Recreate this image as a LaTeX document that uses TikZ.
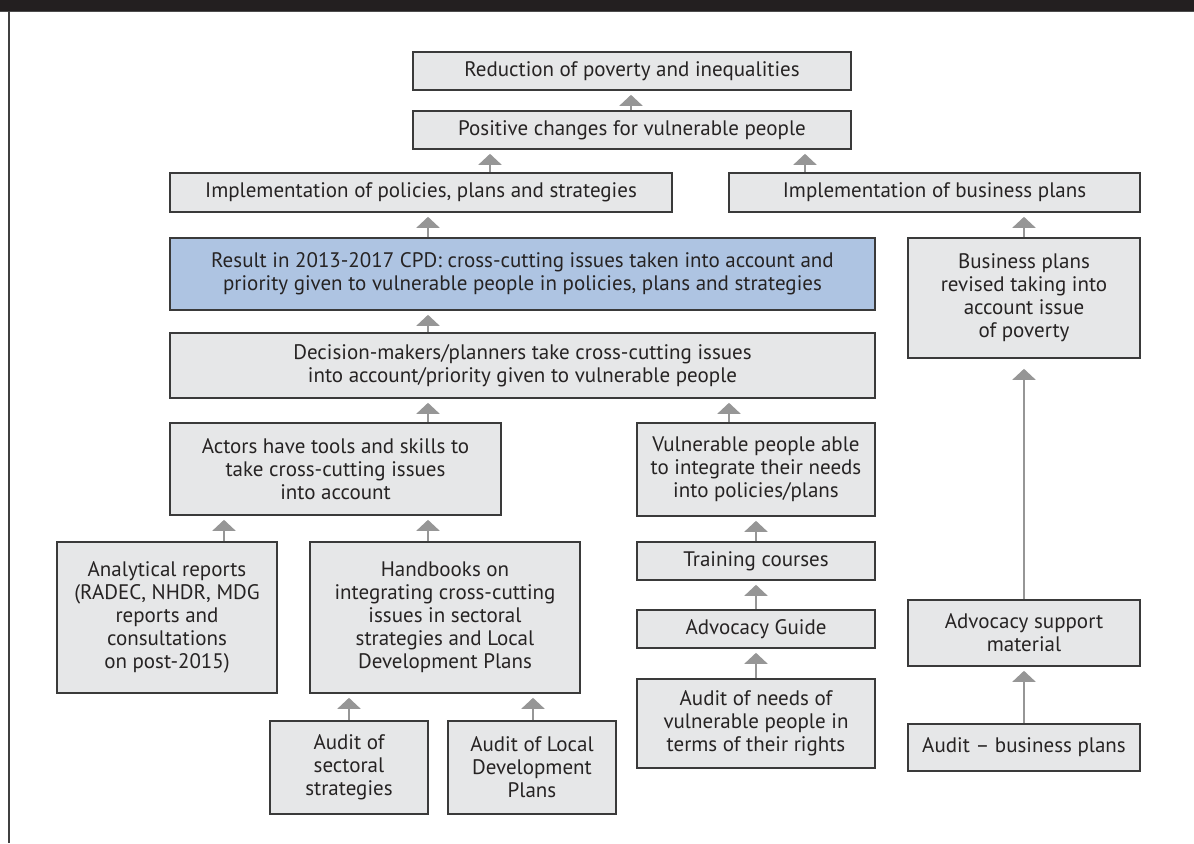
\documentclass[tikz,border=0pt]{standalone}
\usepackage{fontspec}
\setmainfont{PT Sans}
\usetikzlibrary{arrows.meta}
\definecolor{boxfill}{RGB}{230,231,232}
\definecolor{boxline}{RGB}{58,58,58}
\definecolor{resultfill}{RGB}{174,196,226}
\definecolor{arrowgray}{RGB}{150,150,150}
\definecolor{textcol}{RGB}{38,35,35}
\definecolor{barblack}{RGB}{35,31,32}
\tikzset{
  box/.style={draw=boxline, line width=0.8pt, fill=boxfill, inner sep=0pt,
    align=center, text=textcol, font=\fontsize{10.5}{11.5}\selectfont},
  resultbox/.style={box, fill=resultfill},
  arr/.style={draw=arrowgray, line width=1pt,
    -{Triangle[width=11.5pt,length=5.5pt]}, shorten >=2pt},
}
% \placebox{name}{left}{top}{right}{bottom}{style}{text}, corners in pixel units
\newcommand\placebox[7]{%
  \pgfmathsetmacro\pbw{(#4-#2)*0.5}%
  \pgfmathsetmacro\pbh{(#5-#3)*0.5}%
  \node[#6, minimum width=\pbw pt, minimum height=\pbh pt] (#1)
    at ({(#2+#4)/2},{(#3+#5)/2}) {#7};}
\begin{document}
\begin{tikzpicture}[x=0.5pt,y=-0.5pt]
\useasboundingbox (0,0) rectangle (1194,843);
% header bar and left frame
\fill[barblack] (0,0) rectangle (1194,10.5);
\fill[black!70] (0,10.5) rectangle (1194,12);
\draw[black!75, line width=1pt] (9,11) -- (9,843);

% column positions for the connectors
\coordinate (c224) at (224,0);
\coordinate (c349) at (349,0);
\coordinate (c428) at (428,0);
\coordinate (c490) at (490,0);
\coordinate (c533) at (533,0);
\coordinate (c631) at (631,0);
\coordinate (c729) at (729,0);
\coordinate (c756) at (756,0);
\coordinate (c805) at (805,0);
\coordinate (c1024) at (1024,0);

% boxes
\placebox{red}{413}{52}{851}{90}{box}{Reduction of poverty and inequalities}
\placebox{pos}{413}{111}{851}{149}{box}{Positive changes for vulnerable people}
\placebox{implP}{170}{173}{672}{212}{box}{Implementation of policies, plans and strategies}
\placebox{implB}{729}{173}{1140}{212}{box}{Implementation of business plans}
\placebox{result}{170}{238}{875}{310}{resultbox}{Result in 2013-2017 CPD: cross-cutting issues taken into account and\\priority given to vulnerable people in policies, plans and strategies}
\placebox{decis}{170}{333}{875}{398}{box}{Decision-makers/planners take cross-cutting issues\\into account/priority given to vulnerable people}
\placebox{bizrev}{908}{238}{1140}{358}{box}{Business plans\\revised taking into\\account issue\\of poverty}
\placebox{actors}{170}{423}{501}{515}{box}{Actors have tools and skills to\\take cross-cutting issues\\into account}
\placebox{vuln}{637}{423}{875}{516}{box}{Vulnerable people able\\to integrate their needs\\into policies/plans}
\placebox{train}{637}{542}{875}{580}{box}{Training courses}
\placebox{advg}{637}{610}{875}{648}{box}{Advocacy Guide}
\placebox{auditN}{637}{679}{875}{768}{box}{Audit of needs of\\vulnerable people in\\terms of their rights}
\placebox{anal}{57}{542}{277}{693}{box}{Analytical reports\\(RADEC, NHDR, MDG\\reports and\\consultations\\on post-2015)}
\placebox{hand}{310}{542}{580}{693}{box}{Handbooks on\\integrating cross-cutting\\issues in sectoral\\strategies and Local\\Development Plans}
\placebox{audS}{270}{721}{428}{814}{box}{Audit of\\sectoral\\strategies}
\placebox{audL}{448}{721}{616}{814}{box}{Audit of Local\\Development\\Plans}
\placebox{advS}{908}{600}{1140}{666}{box}{Advocacy support\\material}
\placebox{audB}{908}{724}{1140}{771}{box}{Audit – business plans}

% connectors
\draw[arr] (pos.north -| c631) -- (red.south -| c631);
\draw[arr] (implP.north -| c490) -- (pos.south -| c490);
\draw[arr] (implB.north -| c805) -- (pos.south -| c805);
\draw[arr] (result.north -| c428) -- (implP.south -| c428);
\draw[arr] (bizrev.north -| c1024) -- (implB.south -| c1024);
\draw[arr] (decis.north -| c428) -- (result.south -| c428);
\draw[arr] (actors.north -| c428) -- (decis.south -| c428);
\draw[arr] (vuln.north -| c729) -- (decis.south -| c729);
\draw[arr] (anal.north -| c224) -- (actors.south -| c224);
\draw[arr] (hand.north -| c428) -- (actors.south -| c428);
\draw[arr] (train.north -| c756) -- (vuln.south -| c756);
\draw[arr] (advg.north -| c756) -- (train.south -| c756);
\draw[arr] (auditN.north -| c756) -- (advg.south -| c756);
\draw[arr] (audS.north -| c349) -- (hand.south -| c349);
\draw[arr] (audL.north -| c533) -- (hand.south -| c533);
\draw[arr, shorten >=5pt] (advS.north -| c1024) -- (bizrev.south -| c1024);
\draw[arr] (audB.north -| c1024) -- (advS.south -| c1024);
\end{tikzpicture}
\end{document}
